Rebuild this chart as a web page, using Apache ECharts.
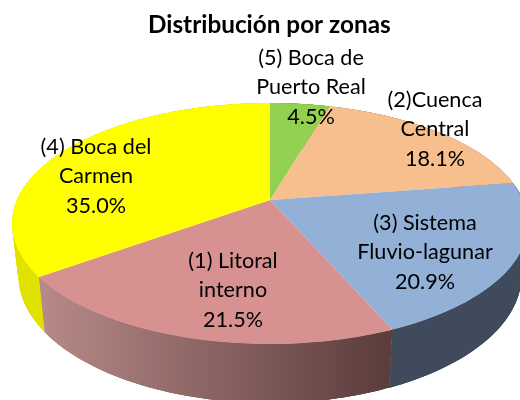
<!DOCTYPE html>
<html>
<head>
<meta charset="utf-8">
<style>html,body{margin:0;padding:0;background:#fff}#c{width:520px;height:400px}</style>
<script src="https://cdn.jsdelivr.net/npm/echarts@6/dist/echarts.min.js"></script>
</head>
<body>
<div id="c"></div>
<script>
var chartTitle = 'Distribución por zonas';
var categories = ['(5) Boca de\nPuerto Real', '(2)Cuenca\nCentral', '(3) Sistema\nFluvio-lagunar', '(1) Litoral\ninterno', '(4) Boca del\nCarmen'];
var values = [4.5, 18.1, 20.9, 21.5, 35.0];
var topColors = ['#92d050', '#f6bf8d', '#93b1d6', '#d69190', '#ffff00'];
var wallColors = [['#6f9e3d', '#6f9e3d'], ['#b98f69', '#b98f69'], ['#3f4b5c', '#3f4b5c'], ['#b88a89', '#5a3c3a'], ['#e2e200', '#dcdc00']];
var labelCenters = [[311, 57], [435, 99], [425, 222], [233, 260], [96, 146]];

// projection of the pie disc
var view = {cx: 270, cy: 200, a: 253, b: 115.9, k: -0.195, shrink: 0.975, depthBase: 39, depthSlope: 0.058};
var total = values.reduce(function (s, v) { return s + v; }, 0);

function project(theta) {
  var u = Math.sin(theta), v = -Math.cos(theta), w = 1 + view.k * v;
  return [view.cx + view.a * u / w, view.cy + view.b * v / w];
}
function lowerPoint(p) {
  return [view.cx + (p[0] - view.cx) * view.shrink, p[1] + view.depthBase + view.depthSlope * p[1]];
}
function sliceAngles(i) {
  var before = 0;
  for (var j = 0; j < i; j++) before += values[j];
  return [before / total * 2 * Math.PI, (before + values[i]) / total * 2 * Math.PI];
}
function arc(t0, t1) {
  var n = Math.max(2, Math.ceil((t1 - t0) * 60)), pts = [];
  for (var s = 0; s <= n; s++) pts.push(project(t0 + (t1 - t0) * s / n));
  return pts;
}

var chart = echarts.init(document.getElementById('c'), null, {renderer: 'canvas'});
chart.setOption({
  animation: false,
  backgroundColor: '#ffffff',
  title: {
    text: chartTitle, left: 143, top: 8, itemGap: 0,
    textStyle: {fontFamily: 'Lato', fontWeight: 'bold', fontSize: 24.3, color: '#000'}
  },
  series: [{
    type: 'custom',
    coordinateSystem: 'none',
    data: values.map(function (v) { return [v]; }),
    renderItem: function (params, api) {
      var i = params.dataIndex;
      var ang = sliceAngles(i);
      var rim = arc(ang[0], ang[1]);
      var xs = rim.map(function (p) { return p[0]; });
      var wallFill = new echarts.graphic.LinearGradient(Math.min.apply(null, xs), 0, Math.max.apply(null, xs), 0, [
        {offset: 0, color: wallColors[i][0]}, {offset: 1, color: wallColors[i][1]}
      ], true);
      var children = [];
      for (var q = 0; q + 1 < rim.length; q++) {
        var next = rim[Math.min(q + 3, rim.length - 1)];
        children.push({
          type: 'polygon', z2: 1,
          shape: {points: [rim[q], rim[q + 1], next, lowerPoint(next), lowerPoint(rim[q + 1]), lowerPoint(rim[q])]},
          style: {fill: wallFill}
        });
      }
      children.push({
        type: 'polygon', z2: 2,
        shape: {points: [[view.cx, view.cy]].concat(rim)},
        style: {fill: topColors[i]}
      });
      children.push({
        type: 'text', z2: 3,
        x: labelCenters[i][0], y: labelCenters[i][1] - 14,
        style: {
          text: categories[i] + '\n' + api.value(0).toFixed(1) + '%',
          fill: '#000', align: 'center', verticalAlign: 'top',
          font: '21.6px Lato', lineHeight: 29.5
        }
      });
      return {type: 'group', children: children};
    }
  }]
});
</script>
</body>
</html>
